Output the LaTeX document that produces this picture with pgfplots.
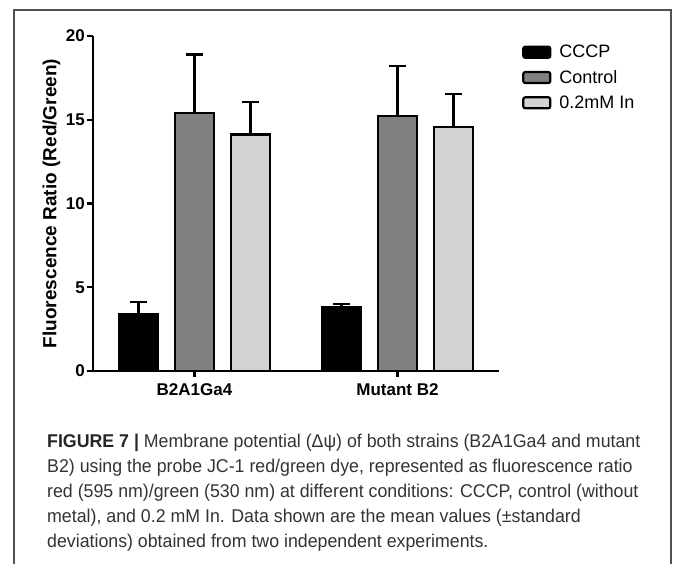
\documentclass[border=0pt]{standalone}
\usepackage{fontspec}
\setmainfont{Liberation Sans}
\newfontfamily\capfont[FakeStretch=0.96]{Liberation Sans}
\usepackage{pgfplots}
\pgfplotsset{compat=1.18}
\definecolor{ctrl}{HTML}{808080}
\definecolor{inn}{HTML}{D3D3D3}
\definecolor{frame}{HTML}{505050}
\definecolor{captxt}{HTML}{333333}
\begin{document}
\begin{tikzpicture}[x=1pt,y=1pt]
\useasboundingbox (0,0) rectangle (673,564);
\draw[line width=1.2pt, frame] (14,-2) -- (14,554) -- (671,554) -- (671,-2);
\begin{axis}[
  at={(93pt,193pt)}, anchor=south west,
  scale only axis, width=406pt, height=335pt,
  xmin=-0.5, xmax=1.5, ymin=0, ymax=20,
  axis x line*=bottom, axis y line*=left,
  axis line style={line width=2.2pt, -},
  ytick={0,5,10,15,20},
  xtick={0,1}, xticklabels={B2A1Ga4, Mutant B2},
  tick style={line width=2.2pt, black},
  major tick length=6pt, tick align=outside,
  minor tick num=0,
  yticklabel style={font=\bfseries\fontsize{17}{17}\selectfont, inner xsep=2pt},
  xticklabel style={font=\bfseries\fontsize{17}{17}\selectfont, yshift=-3pt},
  /pgf/number format/assume math mode=true,
  ylabel={Fluorescence Ratio (Red/Green)},
  ylabel style={font=\bfseries\fontsize{19}{19}\selectfont},
  legend cell align=left,
  legend style={at={(1,1)}, anchor=north west, xshift=20pt, yshift=-5pt,
    draw=none, fill=none, row sep=7pt,
    font=\fontsize{18}{18}\selectfont},
  mylegend/.style={legend image code/.code={
    \draw[##1, line width=2.2pt, rounded corners=2pt] (0pt,-5.5pt) rectangle (27pt,5.5pt);
    \path (33pt,0pt);}},
  error bars/error bar style={line width=2.2pt, black},
  error bars/error mark options={line width=2.2pt, black, mark size=8.5pt, rotate=90},
]
\addplot[ybar, bar shift=0pt, bar width=0.19, fill=black, draw=black, line width=2.2pt, mylegend,
  error bars/.cd, y dir=plus, y explicit]
  coordinates {(-0.276,3.40) +- (0,0.70) (0.724,3.82) +- (0,0.16)};
\addlegendentry{CCCP}
\addplot[ybar, bar shift=0pt, bar width=0.19, fill=ctrl, draw=black, line width=2.2pt, mylegend,
  error bars/.cd, y dir=plus, y explicit]
  coordinates {(0,15.39) +- (0,3.50) (1,15.20) +- (0,3.00)};
\addlegendentry{Control}
\addplot[ybar, bar shift=0pt, bar width=0.19, fill=inn, draw=black, line width=2.2pt, mylegend,
  error bars/.cd, y dir=plus, y explicit]
  coordinates {(0.276,14.12) +- (0,1.96) (1.276,14.55) +- (0,1.98)};
\addlegendentry{0.2mM In}
\end{axis}
\node[anchor=north west, align=left, inner sep=0pt, text=captxt,
  font=\capfont\fontsize{18.5}{25}\selectfont] at (47,130) {%
\textbf{\color{black!85}FIGURE 7 |} Membrane potential (Δψ) of both strains (B2A1Ga4 and mutant\\
B2) using the probe JC-1 red/green dye, represented as fluorescence ratio\\
red (595 nm)/green (530 nm) at different conditions: CCCP, control (without\\
metal), and 0.2 mM In. Data shown are the mean values (±standard\\
deviations) obtained from two independent experiments.};
\end{tikzpicture}
\end{document}
